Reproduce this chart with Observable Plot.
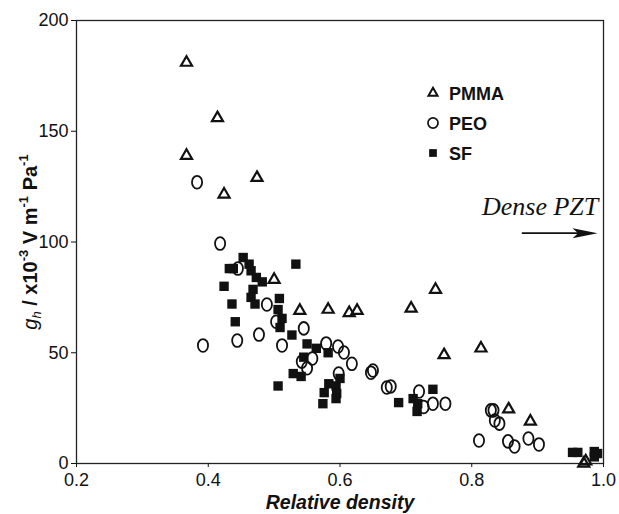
<!DOCTYPE html>
<html><head><meta charset="utf-8">
<script src="https://cdn.jsdelivr.net/npm/d3@7"></script>
<script src="https://cdn.jsdelivr.net/npm/@observablehq/plot@0.6"></script>
<style>
body{margin:0;background:#fff}
#chart{position:relative;width:619px;height:514px}
</style>
</head><body><div id="chart"></div>
<script>
// ---- data ----
const pmmaX = [0.367,0.414,0.367,0.474,0.424,0.500,0.539,0.582,0.614,0.626,0.708,0.745,0.758,0.814,0.856,0.889,0.973,0.970];
const pmmaY = [181,156,139,129,121.5,83,69,69.5,68,69,70,78.5,49,52,24.5,19,1,0];

const peoX = [0.383,0.418,0.392,0.445,0.444,0.477,0.489,0.503,0.512,0.545,0.542,0.550,0.558,0.579,0.597,0.606,0.618,0.598,0.647,0.650,0.671,0.677,0.720,0.727,0.741,0.760,0.811,0.829,0.833,0.835,0.842,0.855,0.865,0.886,0.902];
const peoY = [127,99.3,53.3,88,55.5,58.2,71.8,64,53.3,61,46,43,47.4,54.2,52.8,50.1,45,40.6,41,42,34.3,34.8,32.5,25.5,27,27,10.4,24,24,19.4,18,10,7.7,11.3,8.6];

const sfX = [0.453,0.432,0.438,0.462,0.465,0.473,0.482,0.533,0.424,0.468,0.465,0.471,0.436,0.508,0.506,0.512,0.509,0.441,0.527,0.550,0.564,0.582,0.545,0.506,0.529,0.541,0.583,0.594,0.600,0.576,0.595,0.594,0.574,0.689,0.711,0.718,0.717,0.741,0.953,0.961,0.986,0.991,0.986];
const sfY = [93,88,88,90,87,84,82,90,80,78.6,75,72,72,74.5,69.5,65.5,61.4,64,58,54,52,50,48,35,40.6,39.3,36,35,38.4,32,31.6,29.3,27,27.5,29.3,27,23.5,33.5,5,5,5.4,4.5,3];

const xTicks = [0.2,0.4,0.6,0.8,1.0];
const yTicks = [0,50,100,150,200];
const seriesNames = ["PMMA","PEO","SF"];

// annotation: "Dense PZT" arrow
const arrowX = [0.876,0.991];
const arrowY = [104,104];
const noteText = ["Dense PZT"];
const noteX = [0.992];
const noteY = [112];

// ---- build tables ----
const pmma = pmmaX.map((x,i)=>({x, y:pmmaY[i]}));
const peo  = peoX.map((x,i)=>({x, y:peoY[i]}));
const sf   = sfX.map((x,i)=>({x, y:sfY[i]}));

const ellipse = {draw(ctx,size){
  const r=Math.sqrt(size/Math.PI), rx=r*0.82, ry=r*1.03, k=0.5523;
  ctx.moveTo(rx,0);
  ctx.bezierCurveTo(rx,ry*k,rx*k,ry,0,ry);
  ctx.bezierCurveTo(-rx*k,ry,-rx,ry*k,-rx,0);
  ctx.bezierCurveTo(-rx,-ry*k,-rx*k,-ry,0,-ry);
  ctx.bezierCurveTo(rx*k,-ry,rx,-ry*k,rx,0);
  ctx.closePath();
}};
const head = {draw(ctx,size){
  const L=Math.sqrt(size/Math.PI);
  ctx.moveTo(0,0);
  ctx.lineTo(-L,-L*0.2);
  ctx.lineTo(-L*0.78,0);
  ctx.lineTo(-L,L*0.2);
  ctx.closePath();
}};

const font = "'Liberation Sans', Arial, Helvetica, sans-serif";

const chart = Plot.plot({
  width: 619, height: 514,
  marginLeft: 76, marginRight: 16, marginTop: 20, marginBottom: 51,
  style: {fontFamily: font, fontSize: "18px", color: "#111", background: "#fff"},
  x: {domain: [0.2,1.0], label: null},
  y: {domain: [0,200], label: null},
  marks: [
    Plot.frame({stroke: "#222", strokeWidth: 1.3}),
    Plot.axisX({ticks: xTicks, tickFormat: d3.format(".1f"), tickSize: 4, tickPadding: 6, label: null, fontSize: 18}),
    Plot.axisY({ticks: yTicks, tickSize: 5, tickPadding: 3, label: null, fontSize: 18}),
    Plot.dot(sf, {x:"x", y:"y", symbol:"square", r:5.3, fill:"#111", stroke:"none"}),
    Plot.dot(peo, {x:"x", y:"y", symbol: ellipse, r:6.2, fill:"none", stroke:"#111", strokeWidth:1.8}),
    Plot.dot(pmma, {x:"x", y:"y", symbol:"triangle", r:4.1, fill:"none", stroke:"#111", strokeWidth:2.2}),
    Plot.link([0], {x1: ()=>arrowX[0], x2: ()=>arrowX[1]-0.015, y1: ()=>arrowY[0], y2: ()=>arrowY[1], stroke:"#111", strokeWidth:1.8}),
    Plot.dot([0], {x: ()=>arrowX[1], y: ()=>arrowY[1], symbol: head, r: 25, fill:"#111", stroke:"none"}),
    Plot.text(noteText, {x: (d,i)=>noteX[i], y:(d,i)=>noteY[i], text: d=>d, textAnchor:"end", lineAnchor:"bottom",
      fontFamily:"'Liberation Serif', 'Times New Roman', serif", fontStyle:"italic", fontSize: 26, fill:"#111"})
  ]
});

const svg = d3.select(chart);

// legend
const lg = svg.append("g").attr("transform","translate(433,0)");
const legendY = [93,123,153];
const legendSym = [d3.symbolTriangle, d3.symbolCircle, d3.symbolSquare];
seriesNames.forEach((name,i)=>{
  const g = lg.append("g").attr("transform",`translate(0,${legendY[i]})`);
  const p = g.append("path").attr("d", d3.symbol(legendSym[i], i===0?36:i===1?80:60)());
  if(i===2) p.attr("fill","#111");
  else p.attr("fill","none").attr("stroke","#111").attr("stroke-width", i===0?2:1.7);
  g.append("text").attr("x",16).attr("y",6.5).attr("text-anchor","start").attr("font-family",font)
    .attr("font-weight","bold").attr("font-size",18).attr("fill","#111").text(name);
});

// x label
svg.append("text").attr("x",340).attr("y",509).attr("text-anchor","middle")
  .attr("font-family",font).attr("font-weight","bold").attr("font-style","italic")
  .attr("font-size",19.5).attr("fill","#111").text("Relative density");

// y label
const yl = svg.append("text").attr("transform","translate(37,242) rotate(-90)")
  .attr("text-anchor","middle").attr("font-family",font).attr("font-size",20).attr("fill","#111");
yl.append("tspan").attr("font-style","italic").text("g");
yl.append("tspan").attr("font-style","italic").attr("font-size",13).attr("dy",4).text("h");
yl.append("tspan").attr("font-weight","bold").attr("dy",-4).text(" / x10");
yl.append("tspan").attr("font-weight","bold").attr("font-size",13).attr("dy",-9).text("-3");
yl.append("tspan").attr("font-weight","bold").attr("dy",9).text(" V m");
yl.append("tspan").attr("font-weight","bold").attr("font-size",13).attr("dy",-9).text("-1");
yl.append("tspan").attr("font-weight","bold").attr("dy",9).text(" Pa");
yl.append("tspan").attr("font-weight","bold").attr("font-size",13).attr("dy",-9).text("-1");

document.getElementById("chart").appendChild(chart);
</script>
</body></html>
